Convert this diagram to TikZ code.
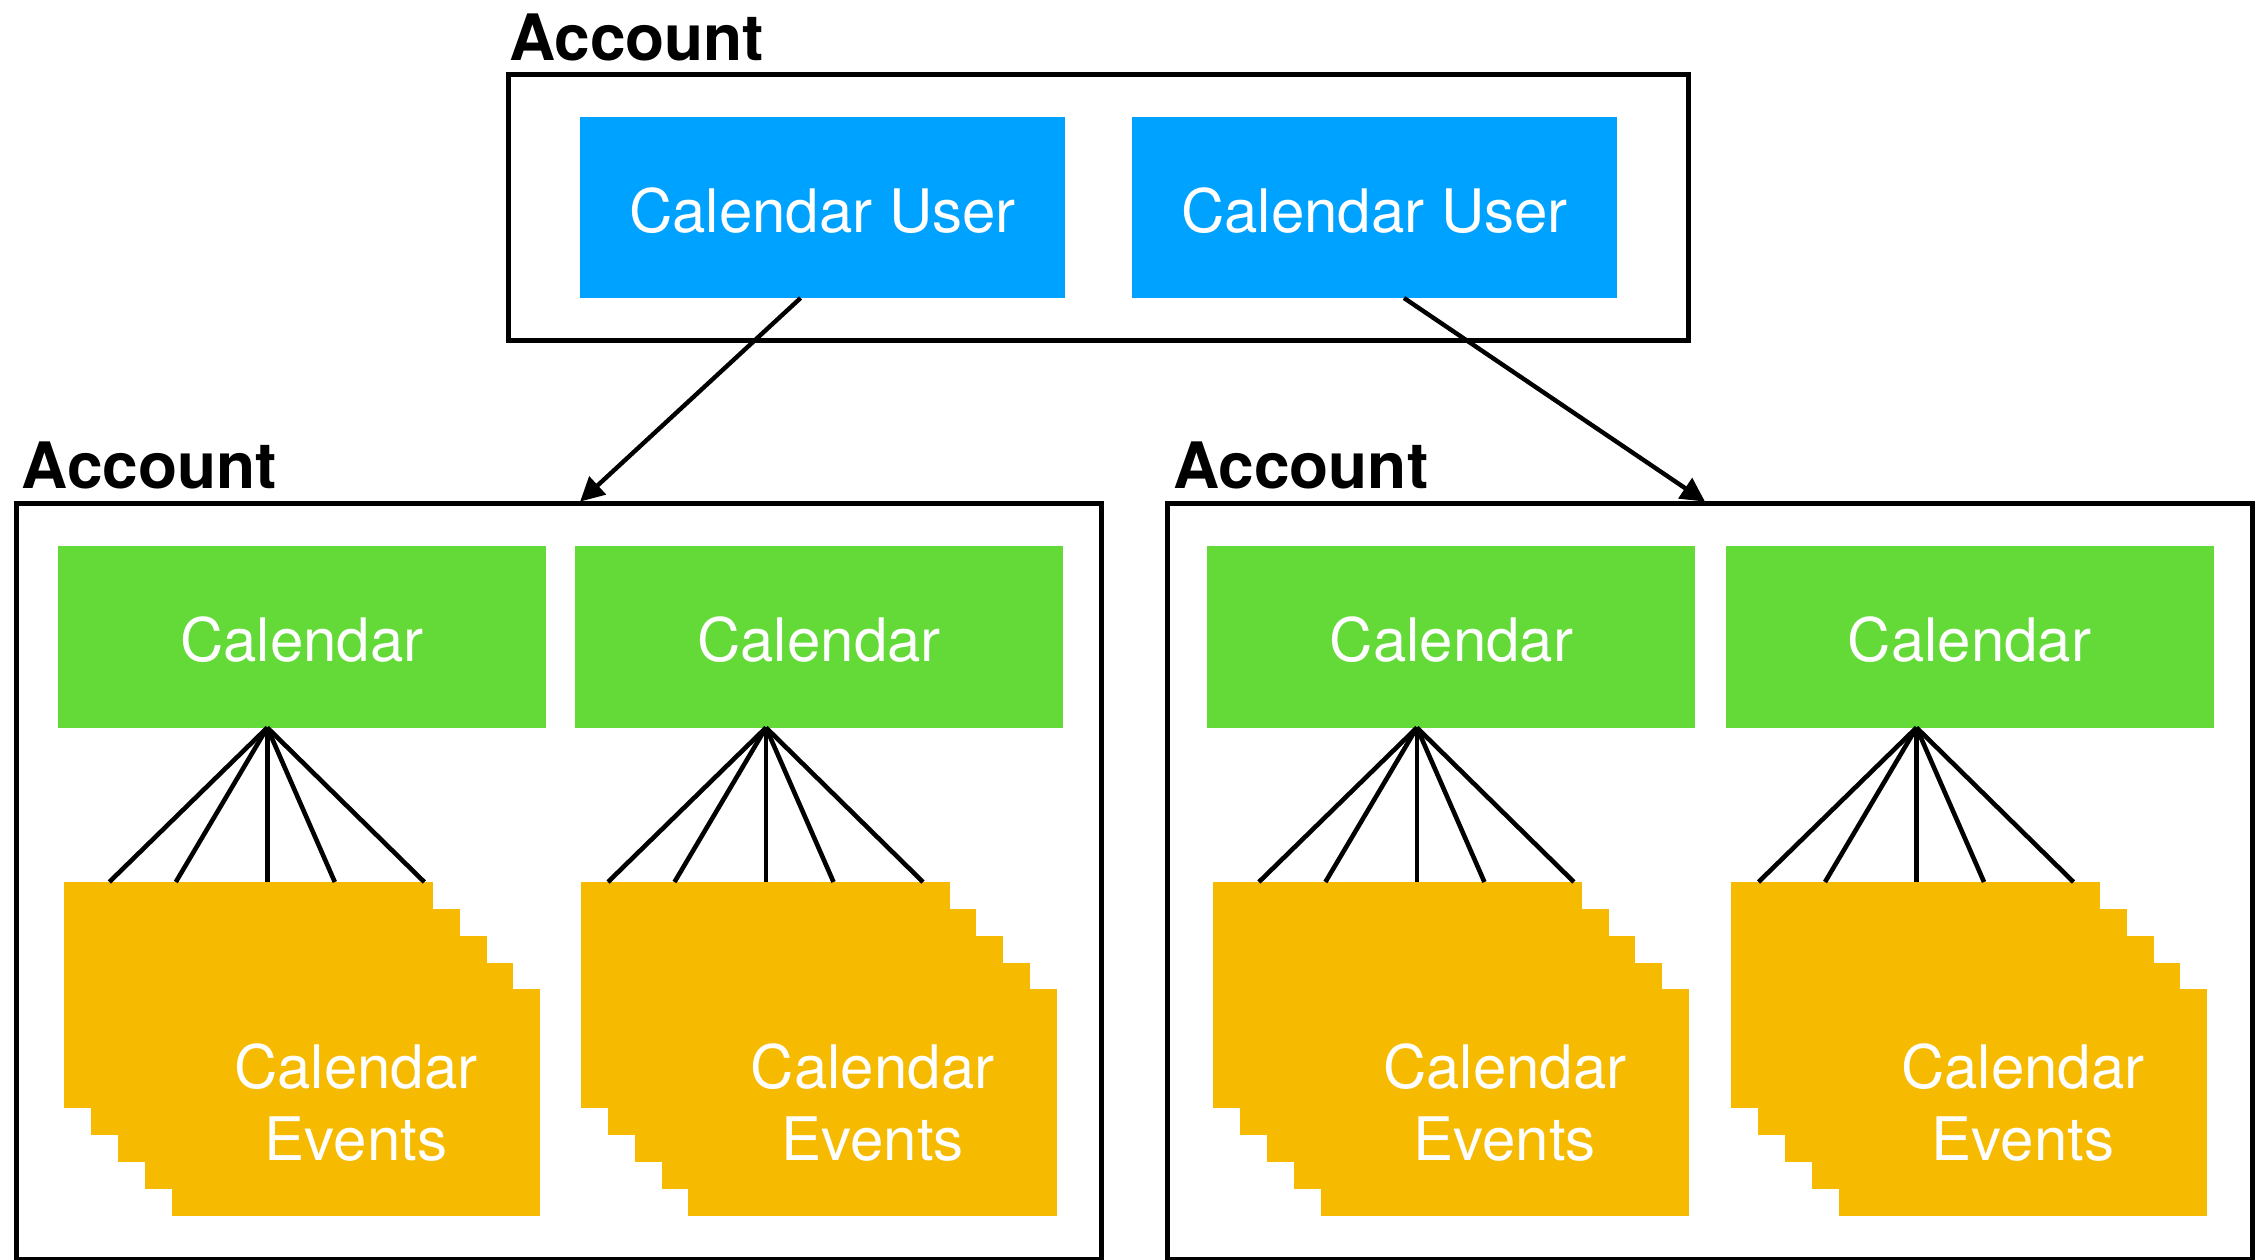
\documentclass[tikz,border=0pt]{standalone}
\usepackage{fontspec}
\setmainfont{TeX Gyre Heros}
\usetikzlibrary{arrows.meta}
\definecolor{cuBlue}{RGB}{0,162,255}
\definecolor{calGreen}{RGB}{99,218,56}
\definecolor{evYellow}{RGB}{246,186,0}
\begin{document}
\begin{tikzpicture}[x=1pt,y=-1pt,
  box/.style={anchor=north west, inner sep=0pt, outer sep=0pt},
  acct/.style={box, draw=black, line width=5pt},
  cuser/.style={box, fill=cuBlue, text=white, minimum width=485pt, minimum height=181pt, text height=50pt, text depth=0pt, font=\fontsize{60}{72}\selectfont},
  cal/.style={box, fill=calGreen, text=white, minimum width=488pt, minimum height=182pt, text height=50pt, text depth=0pt, font=\fontsize{60}{72}\selectfont},
  evt/.style={box, fill=evYellow, minimum width=368.5pt, minimum height=226.2pt},
  evtext/.style={inner sep=0pt, text=white, align=center, font=\fontsize{60}{72}\selectfont},
  acctlabel/.style={anchor=base west, inner sep=0pt, font=\bfseries\fontsize{64}{76}\selectfont},
  fan/.style={draw=black, line width=4.6pt},
  link/.style={draw=black, line width=4.4pt, -{Triangle[length=24pt,width=24pt]}}
]
\useasboundingbox (0,0) rectangle (2266,1259);

% top account
\node[acctlabel] (lblTop) at (509,60) {Account};
\node[acct, minimum width=1180pt, minimum height=266pt] (accTop) at (508,74.7) {};
\node[cuser] (cu1) at (580,117) {Calendar User};
\node[cuser] (cu2) at (1132,117) {Calendar User};

% lower accounts
\node[acctlabel] (lblL) at (21.7,488) {Account};
\node[acctlabel] (lblR) at (1173,488) {Account};
\node[acct, minimum width=1085.5pt, minimum height=756pt] (accL) at (16.1,503.6) {};
\node[acct, minimum width=1085.5pt, minimum height=756pt] (accR) at (1167,503.6) {};

% calendars with event stacks
\foreach \g/\cx/\sx/\ap/\r in {1/57.8/64.3/209.5/203, 2/575/581/191/185, 3/1207.4/1213.2/209.5/203.7, 4/1725.5/1731.3/191/185.2}{
  \node[cal] (cal\g) at (\cx,545.6) {Calendar};
  \foreach \k in {0,...,4}{
    \node[evt] (ev\g-\k) at ({\sx+26.85*\k},{882+26.85*\k}) {};
  }
  \node[evtext] (evl\g) at (ev\g-4.center) {Calendar\\Events};
  \coordinate (ap\g) at ([xshift=\ap pt]cal\g.south west);
  \foreach \o in {-158,-91.5,0,67.5,157}{
    \pgfmathsetmacro{\ex}{\r+\o}
    \draw[fan] (ap\g) -- ([xshift=\ex pt]ev\g-0.north west);
  }
}

% links
\draw[link] ([xshift=220.6pt]cu1.south west) -- ([xshift=564pt,yshift=2pt]accL.north west);
\draw[link] ([xshift=272pt]cu2.south west) -- ([xshift=538pt,yshift=2pt]accR.north west);
\end{tikzpicture}
\end{document}
